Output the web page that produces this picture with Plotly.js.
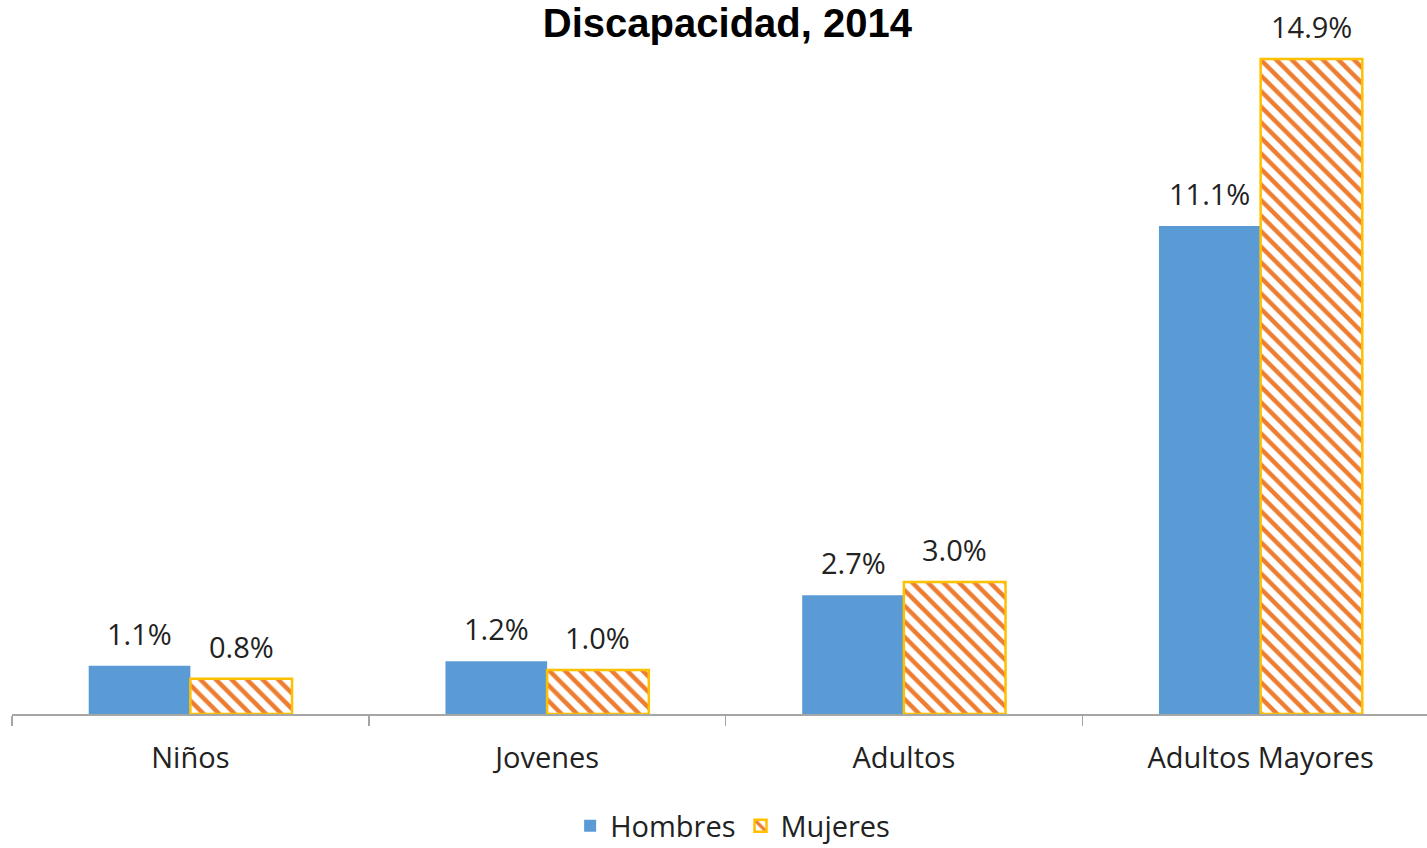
<!DOCTYPE html>
<html><head><meta charset="utf-8">
<script src="https://cdn.plot.ly/plotly-3.0.1.min.js"></script>
<style>html,body{margin:0;padding:0;background:#fff;overflow:hidden}#chart{width:1439px;height:848px}</style>
</head><body><div id="chart"></div>
<script>
var categories = ["Niños", "Jovenes", "Adultos", "Adultos Mayores"];
var hombres = [1.1, 1.2, 2.7, 11.1];
var mujeres = [0.8, 1.0, 3.0, 14.9];
var seriesNames = ["Hombres", "Mujeres"];

var bargap = 0.43;
var off = (1 - bargap) / 4;
var fam = "'Open Sans', Lato, sans-serif";
var labelFont = {family: fam, size: 29, color: "#222"};

var annotations = [];
categories.forEach(function(c, i){
  annotations.push({x: i - off, y: hombres[i], xref: "x", yref: "y", text: hombres[i].toFixed(1) + "%",
    showarrow: false, yanchor: "bottom", yshift: 11, font: labelFont});
  annotations.push({x: i + off, y: mujeres[i], xref: "x", yref: "y", text: mujeres[i].toFixed(1) + "%",
    showarrow: false, yanchor: "bottom", yshift: 11, font: labelFont});
});

var data = [
  {type: "bar", name: seriesNames[0], x: categories, y: hombres,
   marker: {color: "#5B9BD5", line: {width: 0}}, hoverinfo: "none"},
  {type: "bar", name: seriesNames[1], x: categories, y: mujeres,
   marker: {color: "#FFFFFF", line: {color: "#FFC000", width: 2.5},
     pattern: {shape: "\\", fgcolor: "#ED7D31", bgcolor: "#FFFFFF", size: 11, solidity: 0.4}},
   hoverinfo: "none"}
];

var layout = {
  width: 1439, height: 848,
  margin: {l: 12, r: 0, t: 40, b: 134, autoexpand: false},
  paper_bgcolor: "#fff", plot_bgcolor: "#fff",
  title: {text: "<b>Discapacidad, 2014</b>", x: 0.5055, xanchor: "center", y: 0.973, yanchor: "middle",
    font: {family: "'Liberation Sans', Arial, sans-serif", size: 40, color: "#000"}},
  barmode: "group", bargap: bargap, bargroupgap: 0,
  showlegend: true,
  legend: {orientation: "h", x: 0.505, xanchor: "center", yref: "container", y: 0.026, yanchor: "middle",
    font: {family: fam, size: 29, color: "#222"}, itemwidth: 30, traceorder: "normal"},
  xaxis: {type: "category", showline: true, linecolor: "#A6A6A6", linewidth: 1.5,
    ticks: "outside", tickson: "boundaries", ticklen: 10, tickcolor: "#A6A6A6", tickwidth: 1.5,
    showgrid: false, zeroline: false, automargin: false, ticklabelstandoff: 18,
    tickfont: {family: fam, size: 29, color: "#222"}},
  yaxis: {range: [0, 15.33], visible: false, showgrid: false, zeroline: false, fixedrange: true, automargin: false},
  annotations: annotations
};

Plotly.newPlot("chart", data, layout, {displayModeBar: false, staticPlot: true});
</script></body></html>
